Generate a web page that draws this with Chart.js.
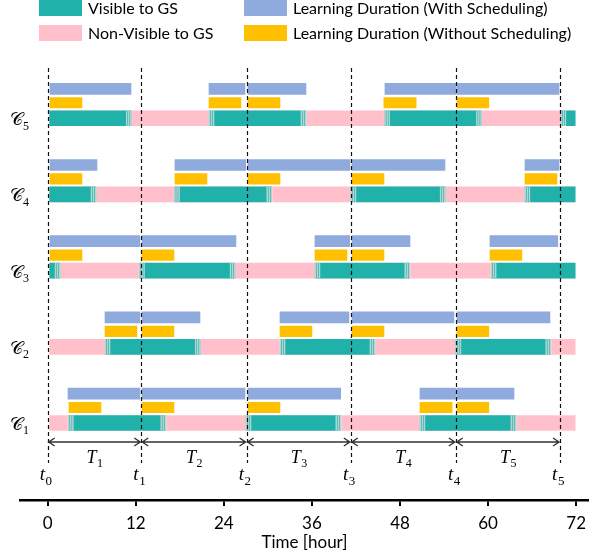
<!DOCTYPE html>
<html>
<head>
<meta charset="utf-8">
<script src="https://cdn.jsdelivr.net/npm/chart.js@4/dist/chart.umd.min.js"></script>
<style>
  html, body { margin: 0; padding: 0; background: #ffffff; }
  canvas { display: block; }
</style>
</head>
<body>
<canvas id="chart" width="589" height="555"></canvas>
<script>
// Clients C1..C5 (subscripts), bottom row first
const clients = ['1', '2', '3', '4', '5'];
// Simulation horizon in hours
const horizon = [0, 72];
// Round boundaries t0..t5 in hours
const roundTimes = [0, 12.75, 27.1, 41.3, 55.6, 69.8];
const tickValues = [0, 12, 24, 36, 48, 60, 72];

// Windows in which each client is visible to the ground station [start, end] (hours)
const visibleWindows = [
  [[2.7, 16.2], [26.9, 40.05], [50.6, 63.9]],                 // C1
  [[7.7, 20.9], [31.55, 44.7], [55.5, 68.65]],                // C2
  [[0, 1.8], [12.4, 25.65], [36.3, 49.45], [60.3, 72]],       // C3
  [[0, 6.7], [17.17, 30.65], [41.2, 54.27], [64.9, 72]],      // C4
  [[0, 11.5], [21.87, 35.3], [45.8, 59.2], [69.8, 72]]        // C5
];

// Local learning intervals with scheduling [start, end] (hours)
const learningWithScheduling = [
  [[2.77, 12.57], [12.85, 26.88], [27.29, 39.92], [50.72, 55.58], [55.72, 63.53]], // C1
  [[7.81, 12.57], [12.85, 20.75], [31.65, 41.05], [41.46, 55.35], [55.76, 68.43]], // C2
  [[0.31, 12.57], [12.85, 25.65], [36.41, 41.14], [41.46, 49.36], [60.26, 69.5]],  // C3
  [[0.31, 6.72], [17.34, 26.97], [27.29, 41.19], [41.46, 54.13], [65.03, 69.66]],  // C4
  [[0.31, 11.35], [21.98, 26.88], [27.29, 35.19], [45.95, 55.58], [55.72, 69.66]]  // C5
];

// Local learning intervals without scheduling [start, end] (hours)
const learningWithoutScheduling = [
  [[2.9, 7.26], [12.85, 17.2], [27.29, 31.65], [50.72, 55.1], [55.76, 60.1]],      // C1
  [[7.81, 12.17], [12.85, 17.2], [31.65, 36.0], [41.46, 45.82], [55.76, 60.1]],    // C2
  [[0.31, 4.67], [12.85, 17.2], [36.41, 40.78], [41.46, 45.82], [60.26, 64.6]],    // C3
  [[0.31, 4.67], [17.34, 21.7], [27.29, 31.65], [41.46, 45.82], [65.03, 69.39]],   // C4
  [[0.31, 4.67], [21.98, 26.33], [27.29, 31.65], [45.8, 50.2], [55.76, 60.1]]      // C5
];

// ---- layout constants (row units on the hidden y axis) ----
const OFF_YELLOW = 0.203;
const OFF_BLUE = 0.386;
const TEAL = '#20b2aa', PINK = '#ffc0cb', BLUE = '#8faadc', GOLD = '#ffc000';
const SANS = 'Lato, "Open Sans", sans-serif';
const SERIF = '"Liberation Serif", "DejaVu Serif", serif';

const rowY = i => i + 1;

const pinkData = clients.map((c, i) => ({ x: horizon.slice(), y: rowY(i) }));
const tealData = [];
const stripeData = [];
visibleWindows.forEach((wins, i) => {
  wins.forEach(w => {
    tealData.push({ x: w, y: rowY(i) });
    // soft striped hand-over zone at the edges of each window
    [0.12, 0.4, 0.68].forEach(d => {
      if (w[0] > horizon[0]) stripeData.push({ x: [w[0] + d, w[0] + d + 0.11], y: rowY(i) });
      if (w[1] < horizon[1]) stripeData.push({ x: [w[1] - d - 0.11, w[1] - d], y: rowY(i) });
    });
  });
});
const goldData = [];
learningWithoutScheduling.forEach((list, i) => list.forEach(w => goldData.push({ x: w, y: rowY(i) + OFF_YELLOW })));
const blueData = [];
learningWithScheduling.forEach((list, i) => list.forEach(w => blueData.push({ x: w, y: rowY(i) + OFF_BLUE })));

function drawSubscripted(ctx, main, sub, cx, cy, size, mainFont, italic) {
  const mf = (italic ? 'italic ' : '') + size + 'px ' + mainFont;
  const sf = Math.round(size * 0.68) + 'px ' + SERIF;
  ctx.font = mf;
  const mw = ctx.measureText(main).width;
  ctx.font = sf;
  const sw = ctx.measureText(sub).width;
  const x0 = cx - (mw + sw) / 2;
  ctx.textBaseline = 'alphabetic';
  ctx.textAlign = 'left';
  ctx.font = mf;
  ctx.fillText(main, x0, cy + size * 0.33);
  ctx.font = sf;
  ctx.fillText(sub, x0 + mw + 0.5, cy + size * 0.33 + size * 0.25);
}

const overlay = {
  id: 'overlay',
  afterDatasetsDraw(chart) {
    const { ctx, scales: { x, y }, chartArea } = chart;
    const c1 = y.getPixelForValue(rowY(0));
    const top = chartArea.top + 8;
    const bottom = c1 + 40;
    const arrowY = c1 + 19;
    ctx.save();
    // round boundaries
    ctx.strokeStyle = '#111';
    ctx.lineWidth = 1.2;
    ctx.setLineDash([4, 3]);
    roundTimes.forEach(t => {
      const px = Math.round(x.getPixelForValue(t)) + 0.5;
      ctx.beginPath();
      ctx.moveTo(px, top);
      ctx.lineTo(px, bottom);
      ctx.stroke();
    });
    ctx.setLineDash([]);
    // double-headed arrows for each round period
    ctx.strokeStyle = '#333';
    ctx.lineWidth = 1.4;
    for (let k = 1; k < roundTimes.length; k++) {
      const a = x.getPixelForValue(roundTimes[k - 1]) + 1;
      const b = x.getPixelForValue(roundTimes[k]) - 1;
      ctx.beginPath();
      ctx.moveTo(a, arrowY); ctx.lineTo(b, arrowY);
      ctx.moveTo(a + 6, arrowY - 4); ctx.lineTo(a, arrowY); ctx.lineTo(a + 6, arrowY + 4);
      ctx.moveTo(b - 6, arrowY - 4); ctx.lineTo(b, arrowY); ctx.lineTo(b - 6, arrowY + 4);
      ctx.stroke();
      ctx.fillStyle = '#000';
      drawSubscripted(ctx, 'T', String(k), (a + b) / 2, arrowY + 15, 18, SERIF, true);
    }
    // t labels
    roundTimes.forEach((t, k) => {
      drawSubscripted(ctx, 't', String(k), x.getPixelForValue(t) - 2, c1 + 51, 19, SERIF, true);
    });
    // client labels
    clients.forEach((c, i) => {
      drawSubscripted(ctx, '\u{1D49E}', c, 19, y.getPixelForValue(rowY(i)) + 1, 18, SERIF, false);
    });
    // legend (two columns)
    const items = [
      { ds: 1, bx: 39, by: 0 },
      { ds: 0, bx: 39, by: 25 },
      { ds: 4, bx: 244, by: 0 },
      { ds: 3, bx: 244, by: 25 }
    ];
    items.forEach(it => {
      const ds = chart.data.datasets[it.ds];
      ctx.fillStyle = ds.backgroundColor;
      ctx.fillRect(it.bx, it.by, 43, 16);
      ctx.fillStyle = '#000';
      ctx.font = '16px ' + SANS;
      ctx.textAlign = 'left';
      ctx.textBaseline = 'middle';
      ctx.fillText(ds.label, it.bx + 49, it.by + 8.5);
    });
    ctx.restore();
  }
};

const barBase = { grouped: false, borderWidth: 0, borderSkipped: false };

new Chart(document.getElementById('chart'), {
  type: 'bar',
  data: {
    datasets: [
      { ...barBase, order: 5, label: 'Non-Visible to GS', data: pinkData, backgroundColor: PINK, barThickness: 17,
        borderWidth: 1, borderColor: 'rgba(255,255,255,0.35)' },
      { ...barBase, order: 4, label: 'Visible to GS', data: tealData, backgroundColor: TEAL, barThickness: 17,
        borderWidth: 1, borderColor: 'rgba(255,255,255,0.3)' },
      { ...barBase, order: 3, label: 'hand-over', data: stripeData, backgroundColor: 'rgba(205,218,218,0.85)', barThickness: 15 },
      { ...barBase, order: 2, label: 'Learning Duration (Without Scheduling)', data: goldData, backgroundColor: GOLD, barThickness: 10.5 },
      { ...barBase, order: 1, label: 'Learning Duration (With Scheduling)', data: blueData, backgroundColor: BLUE, barThickness: 11 }
    ]
  },
  options: {
    indexAxis: 'y',
    responsive: false,
    animation: false,
    devicePixelRatio: 1,
    layout: { padding: { top: 60, left: 20, right: 0, bottom: 0 } },
    plugins: { legend: { display: false }, tooltip: { enabled: false } },
    scales: {
      y: { type: 'linear', display: false, offset: false, min: -0.0105, max: 5.764 },
      x: {
        type: 'linear',
        min: -3.77,
        max: 73.75,
        afterBuildTicks: s => { s.ticks = tickValues.map(v => ({ value: v })); },
        afterFit: s => { s.height = 55; s.paddingLeft = 0; s.paddingRight = 0; },
        border: { display: true, color: '#000', width: 2.5 },
        grid: { drawOnChartArea: false, drawTicks: true, tickLength: 6, color: '#000', lineWidth: 2 },
        ticks: { color: '#000', font: { family: SANS, size: 17 }, padding: 7, maxRotation: 0, autoSkip: false },
        title: { display: true, text: 'Time [hour]', color: '#000', font: { family: SANS, size: 17 }, padding: { top: 0, bottom: 2 } }
      }
    }
  },
  plugins: [overlay]
});
</script>
</body>
</html>
